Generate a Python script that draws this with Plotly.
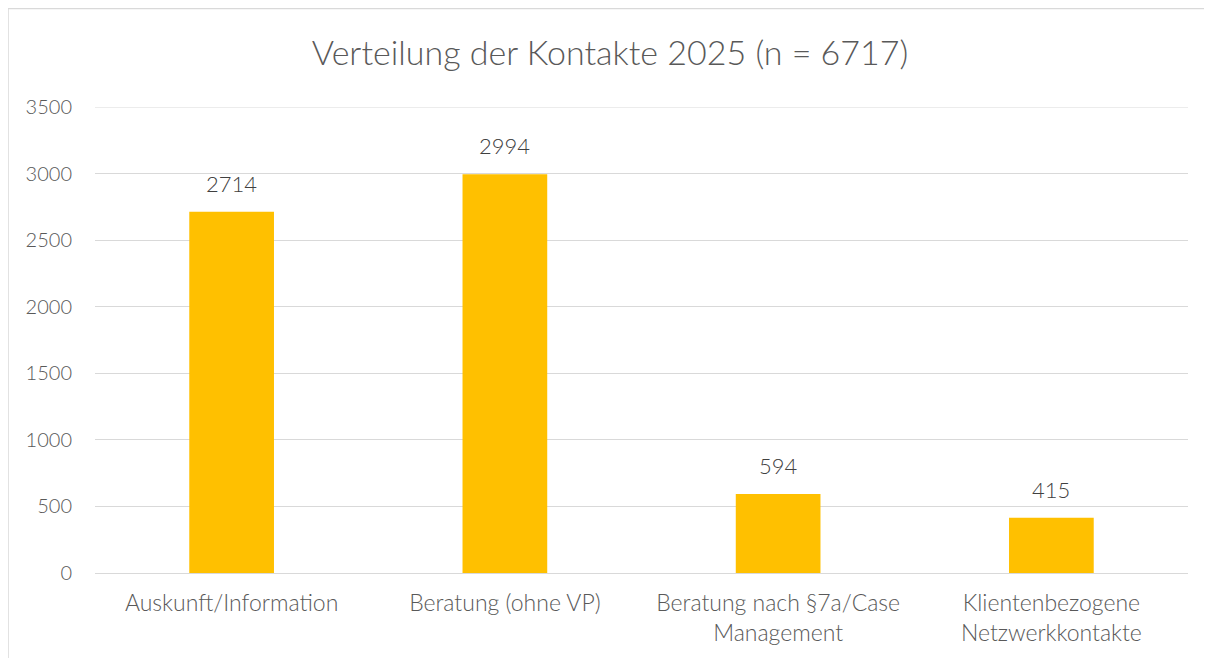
import plotly.graph_objects as go

categories = ["Auskunft/Information", "Beratung (ohne VP)", "Beratung nach §7a/Case<br>Management", "Klientenbezogene<br>Netzwerkkontakte"]
values = [2714, 2994, 594, 415]
y_ticks = [0, 500, 1000, 1500, 2000, 2500, 3000, 3500]
title = "Verteilung der Kontakte 2025 (n = 6717)"

FONT = "Lato, Carlito, Calibri, sans-serif"
OFF = 8  # browser body margin

fig = go.Figure(go.Bar(
    x=categories, y=values,
    marker=dict(color="#FFC000", line=dict(width=0)),
    hoverinfo="x+y",
))

W, H = 1212 - OFF, 658 - OFF
L, R, T, B = 95 - OFF, 1212 - 1188, 107 - OFF, 658 - 573
pw, ph = W - L - R, H - T - B

annotations = [dict(x=c, y=v, xref="x", yref="y", text=str(v), showarrow=False,
                    yanchor="bottom", yshift=13,
                    font=dict(size=22, color="#404040", family=FONT, weight=300))
               for c, v in zip(categories, values)]

fig.update_layout(
    width=W, height=H,
    margin=dict(l=L, r=R, t=T, b=B),
    paper_bgcolor="white", plot_bgcolor="white",
    font=dict(family=FONT, color="#595959", size=21, weight=300),
    title=dict(text=title, x=0.5, xanchor="center", y=1 - (53 - OFF) / H, yanchor="middle",
               font=dict(size=34, color="#595959", family=FONT, weight=300)),
    bargap=0.69,
    showlegend=False,
    annotations=annotations,
    xaxis=dict(showgrid=False, showline=False, ticks="", ticklabelstandoff=14, automargin=False,
               tickfont=dict(size=23, color="#595959", weight=300)),
    yaxis=dict(range=[0, 3500], tickvals=y_ticks, automargin=False,
               showgrid=True, gridcolor="#D9D9D9", gridwidth=1,
               zeroline=True, zerolinecolor="#D9D9D9", zerolinewidth=1,
               showline=False, ticks="", ticklabelstandoff=22,
               tickfont=dict(size=20, color="#595959", weight=300)),
    shapes=[dict(type="rect", xref="paper", yref="paper",
                 x0=(0 - L) / pw, x1=(W - 1 - L) / pw,
                 y0=(H - B - H - 10) / ph, y1=(H - B - 0.5) / ph,
                 line=dict(color="#D9D9D9", width=1.5), fillcolor="rgba(0,0,0,0)", layer="below"),
            dict(type="line", xref="paper", yref="y", x0=0, x1=1, y0=y_ticks[-1], y1=y_ticks[-1],
                 line=dict(color="#D9D9D9", width=1), layer="below")],
)

fig.write_html("out.html")
